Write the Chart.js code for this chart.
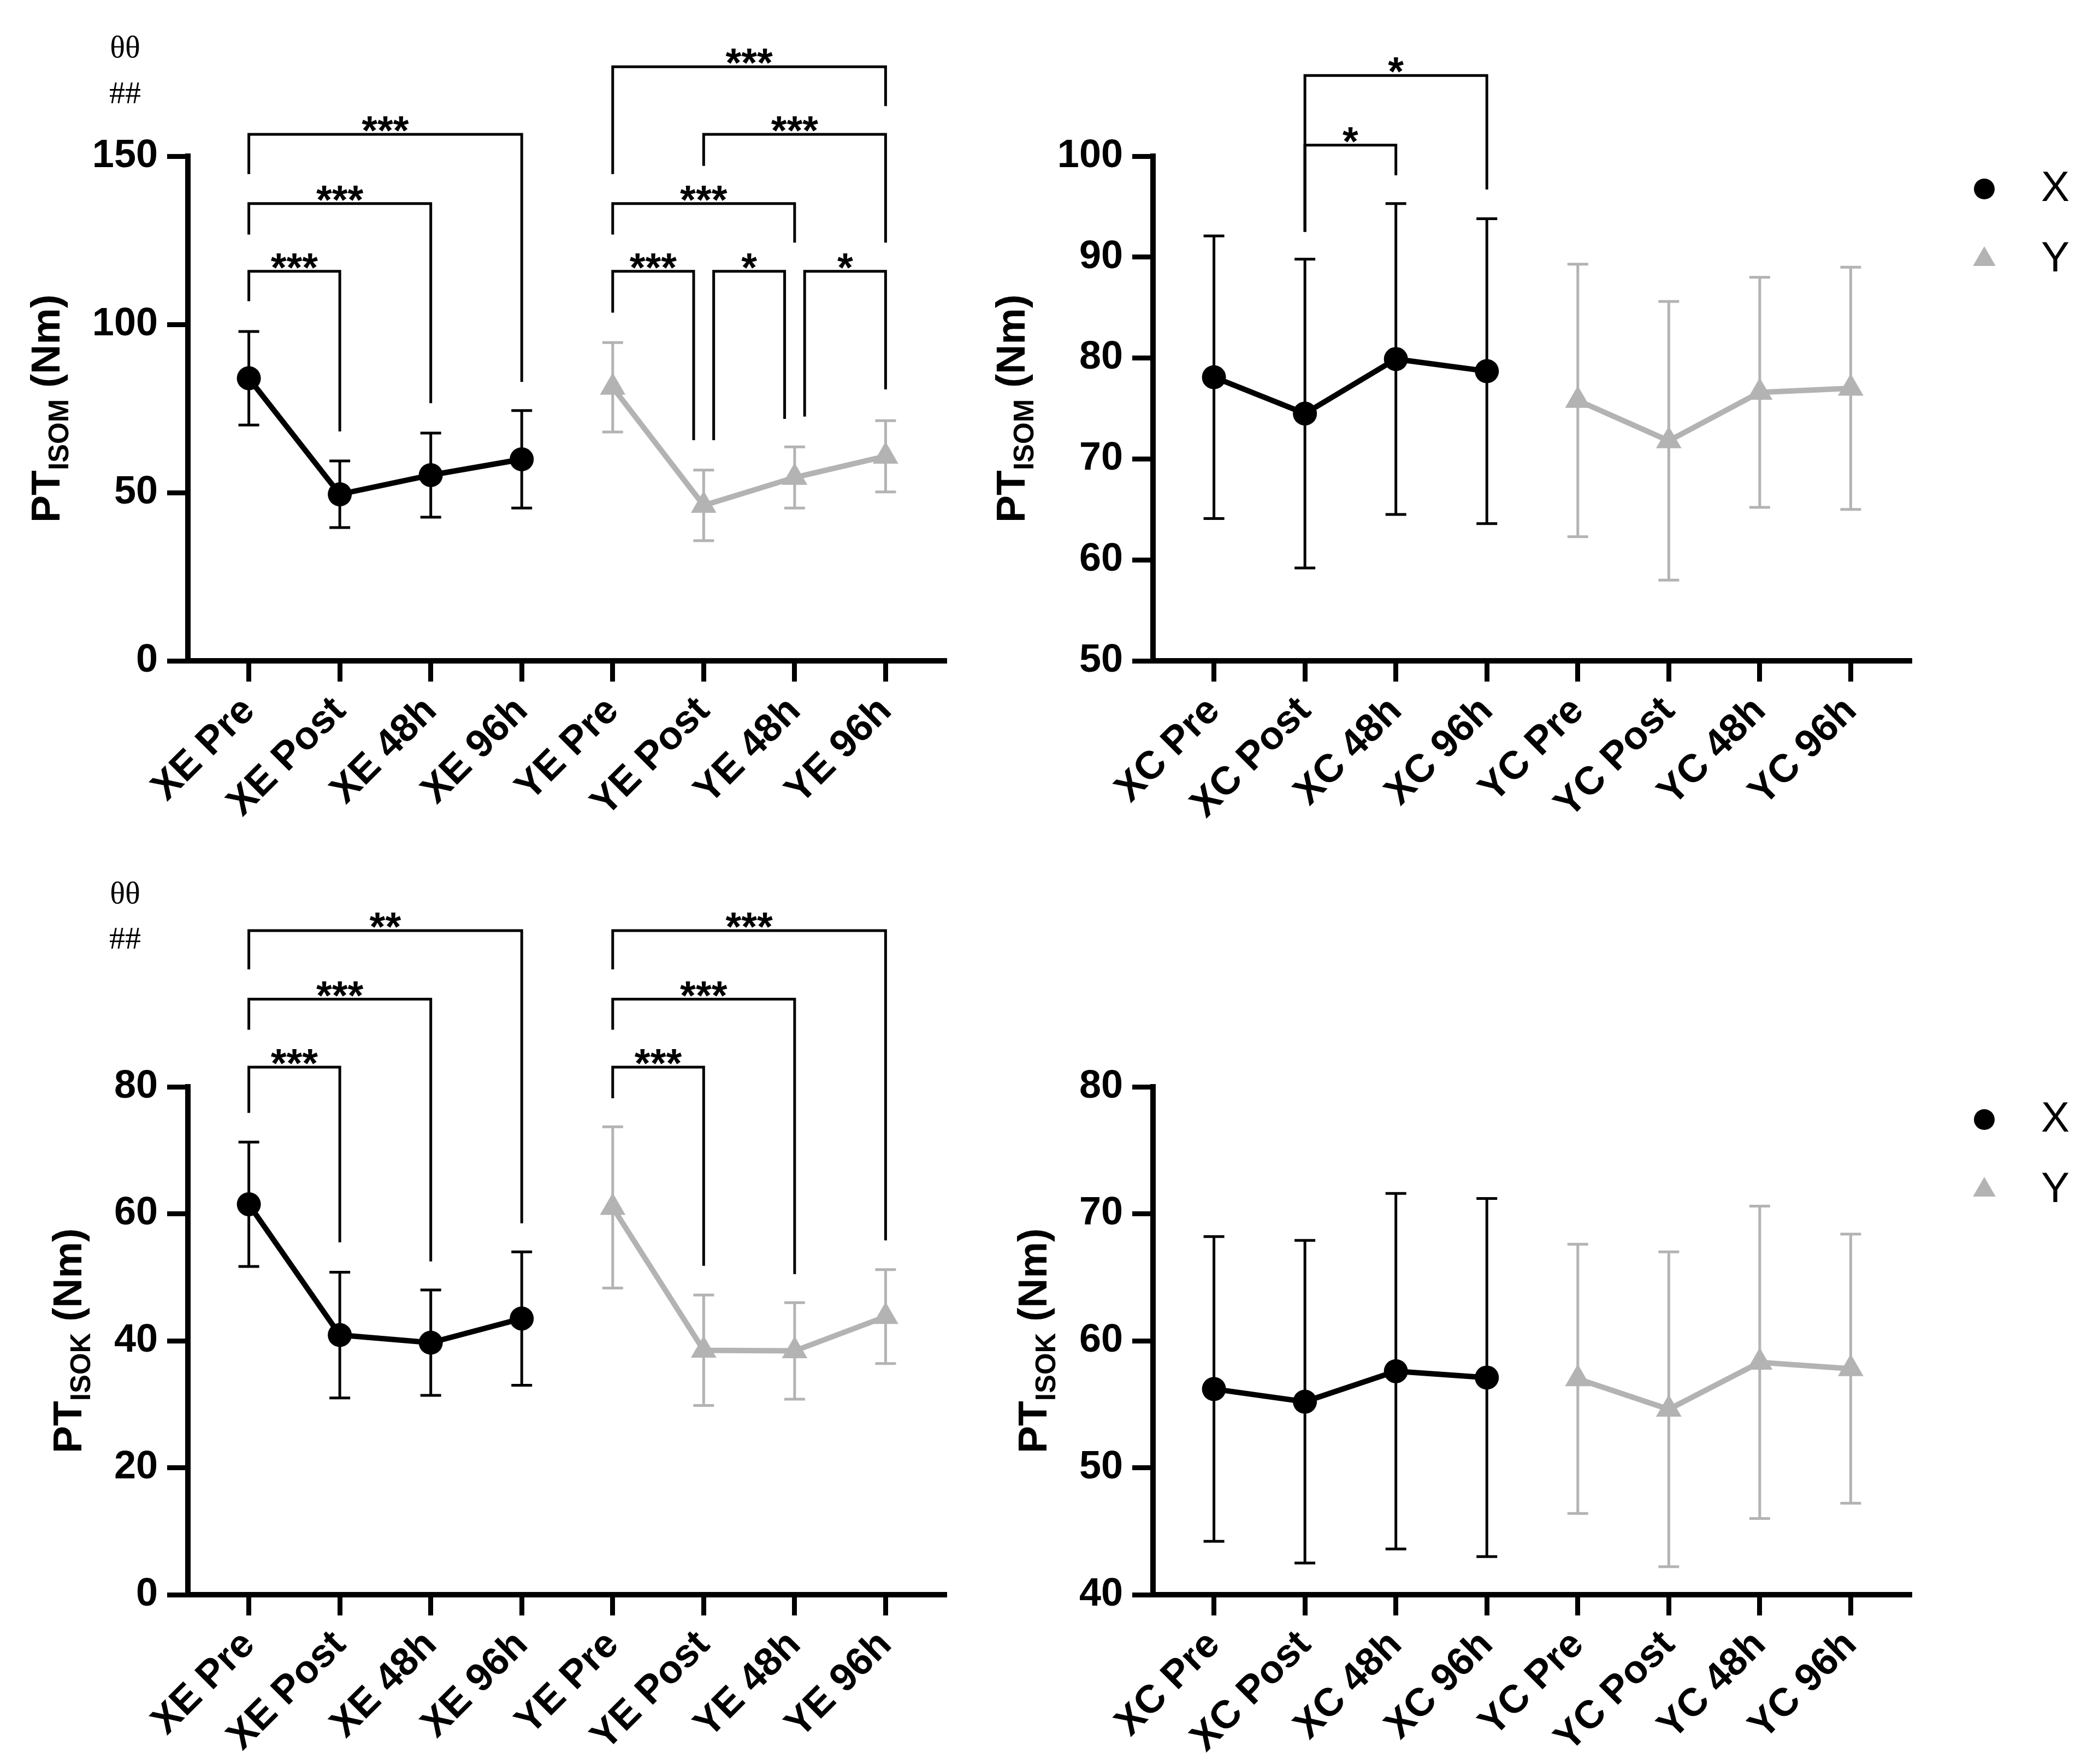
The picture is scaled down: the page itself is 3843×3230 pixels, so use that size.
<!DOCTYPE html>
<html>
<head>
<meta charset="utf-8">
<script src="https://cdn.jsdelivr.net/npm/chart.js@4.4.1/dist/chart.umd.min.js"></script>
<style>
  html, body { margin: 0; background: #fff; }
  #page { position: relative; width: 3843px; height: 3230px; background: #fff; }
  canvas { position: absolute; }
</style>
</head>
<body>
<div id="page">
  <canvas id="isomEx" width="1850" height="1580" style="left:0px;top:0px"></canvas>
  <canvas id="isomCtl" width="2093" height="1580" style="left:1750px;top:0px"></canvas>
  <canvas id="isokEx" width="1850" height="1650" style="left:0px;top:1580px"></canvas>
  <canvas id="isokCtl" width="2093" height="1650" style="left:1750px;top:1580px"></canvas>
</div>
<script>
const exLabels = ['XE Pre', 'XE Post', 'XE 48h', 'XE 96h', 'YE Pre', 'YE Post', 'YE 48h', 'YE 96h']
const ctlLabels = ['XC Pre', 'XC Post', 'XC 48h', 'XC 96h', 'YC Pre', 'YC Post', 'YC 48h', 'YC 96h']

// isometric peak torque (mean, sd)
const isomExX = [84.0, 49.5, 55.2, 59.9]
const isomExXsd = [13.9, 9.9, 12.5, 14.5]
const isomExY = [81.3, 46.2, 54.5, 60.8]
const isomExYsd = [13.3, 10.5, 9.1, 10.6]
const isomCtlX = [78.1, 74.5, 79.9, 78.7]
const isomCtlXsd = [14.0, 15.3, 15.4, 15.1]
const isomCtlY = [75.8, 71.8, 76.6, 77.0]
const isomCtlYsd = [13.5, 13.8, 11.4, 12.0]

// isokinetic peak torque (mean, sd)
const isokExX = [61.5, 40.9, 39.7, 43.5]
const isokExXsd = [9.8, 9.9, 8.3, 10.5]
const isokExY = [61.0, 38.5, 38.4, 43.8]
const isokExYsd = [12.7, 8.7, 7.6, 7.4]
const isokCtlX = [56.2, 55.2, 57.6, 57.1]
const isokCtlXsd = [12.0, 12.7, 14.0, 14.1]
const isokCtlY = [57.0, 54.6, 58.3, 57.8]
const isokCtlYsd = [10.6, 12.4, 12.3, 10.6]

// significance brackets: [from, to, bar value, left leg end, right leg end, stars]
const isomExBrackets = [
  [0, 1, 115.8, 106.9, 68.2, '***'],
  [0, 2, 135.9, 126.7, 76.6, '***'],
  [0, 3, 156.5, 144.7, 82.9, '***'],
  [4, 7, 176.6, 144.7, 164.9, '***'],
  [5, 7, 156.5, 147.1, 124.3, '***'],
  [4, 6, 135.9, 126.7, 124.3, '***'],
  [4, 4.89, 115.8, 103.5, 65.6, '***'],
  [5.11, 5.89, 115.8, 65.6, 71.9, '*'],
  [6.11, 7, 115.8, 72.6, 80.7, '*']
]
const isomCtlBrackets = [
  [1, 3, 108.0, 92.5, 96.7, '*'],
  [1, 2, 101.1, 92.5, 98.1, '*']
]
const isokExBrackets = [
  [0, 1, 83.1, 75.9, 55.5, '***'],
  [0, 2, 93.8, 89.0, 52.5, '***'],
  [0, 3, 104.6, 98.5, 58.5, '**'],
  [4, 5, 83.1, 78.2, 51.8, '***'],
  [4, 6, 93.8, 89.0, 50.5, '***'],
  [4, 7, 104.6, 98.5, 55.8, '***']
]

// group effect marks left of the plot: [text, x value, y value]
const isomExMarks = [['θθ', -1.36, 181.8], ['##', -1.36, 168.2]]
const isokExMarks = [['θθ', -1.36, 110.2], ['##', -1.36, 103.1]]

const BLACK = '#000000'
const GRAY = '#b3b3b3'
const SANS = "'Liberation Sans', Arial, Helvetica, sans-serif"
const SERIF = "'Liberation Serif', 'Times New Roman', serif"

const toPoints = (vals, start) => vals.map((v, i) => ({ x: start + i, y: v }))

const errorBars = {
  id: 'errorBars',
  beforeDatasetsDraw(chart) {
    const { ctx, scales: { x, y } } = chart
    ctx.save()
    chart.data.datasets.forEach(ds => {
      ctx.strokeStyle = ds.borderColor
      ctx.lineWidth = 5
      ds.data.forEach((p, i) => {
        const px = x.getPixelForValue(p.x)
        const top = y.getPixelForValue(p.y + ds.sd[i])
        const bot = y.getPixelForValue(p.y - ds.sd[i])
        ctx.beginPath()
        ctx.moveTo(px, top); ctx.lineTo(px, bot)
        ctx.moveTo(px - 19, top); ctx.lineTo(px + 19, top)
        ctx.moveTo(px - 19, bot); ctx.lineTo(px + 19, bot)
        ctx.stroke()
      })
    })
    ctx.restore()
  }
}

const brackets = {
  id: 'brackets',
  afterDraw(chart, args, opts) {
    const { ctx, scales: { x, y } } = chart
    ctx.save()
    ctx.strokeStyle = BLACK
    ctx.fillStyle = BLACK
    ctx.lineWidth = 5
    ctx.font = `bold 74px ${SANS}`
    ctx.textAlign = 'center'
    ctx.textBaseline = 'alphabetic'
    ;(opts.items || []).forEach(([a, b, h, l, r, stars]) => {
      const x1 = x.getPixelForValue(a)
      const x2 = x.getPixelForValue(b)
      const yh = y.getPixelForValue(h)
      ctx.beginPath()
      ctx.moveTo(x1, y.getPixelForValue(l))
      ctx.lineTo(x1, yh)
      ctx.lineTo(x2, yh)
      ctx.lineTo(x2, y.getPixelForValue(r))
      ctx.stroke()
      ctx.fillText(stars, (x1 + x2) / 2, yh + 18)
    })
    ctx.font = `58px ${SERIF}`
    ctx.textBaseline = 'middle'
    ;(opts.marks || []).forEach(([t, mx, my]) => {
      ctx.fillText(t, x.getPixelForValue(mx), y.getPixelForValue(my))
    })
    ctx.restore()
  }
}

const axisTitle = {
  id: 'axisTitle',
  afterDraw(chart, args, opts) {
    const { ctx, chartArea } = chart
    const ys = chart.scales.y
    ctx.save()
    ctx.font = `bold 72px ${SANS}`
    const labelW = Math.max(...ys.ticks.map(t => ctx.measureText(String(t.label)).width))
    const xb = ys.right - 38 - 17 - labelW - 60
    const yc = (chartArea.top + chartArea.bottom) / 2
    const main = `bold 75px ${SANS}`
    const sub = `bold 51px ${SANS}`
    ctx.font = main
    const w1 = ctx.measureText('PT').width
    const w3 = ctx.measureText(' (Nm)').width
    ctx.font = sub
    const w2 = ctx.measureText(opts.sub).width
    const start = -(w1 + w2 + w3) / 2
    ctx.translate(xb, yc)
    ctx.rotate(-Math.PI / 2)
    ctx.fillStyle = BLACK
    ctx.textAlign = 'left'
    ctx.textBaseline = 'alphabetic'
    ctx.font = main
    ctx.fillText('PT', start, 0)
    ctx.font = sub
    ctx.fillText(opts.sub, start + w1, 16)
    ctx.font = main
    ctx.fillText(' (Nm)', start + w1 + w2, 0)
    ctx.restore()
  }
}

const sideLegend = {
  id: 'sideLegend',
  afterDraw(chart, args, opts) {
    if (!opts.show) return
    const { ctx, chartArea } = chart
    ctx.save()
    chart.data.datasets.forEach((ds, i) => {
      const cy = chartArea.top + 60 + i * 129
      ctx.fillStyle = ds.backgroundColor
      const r = ds.pointStyle === 'triangle' ? 24 : 19
      Chart.helpers.drawPoint(ctx, { pointStyle: ds.pointStyle, radius: r, borderWidth: 0, rotation: 0 }, chartArea.right + 133, cy)
      ctx.fillStyle = BLACK
      ctx.font = `78px ${SANS}`
      ctx.textAlign = 'left'
      ctx.textBaseline = 'middle'
      ctx.fillText(ds.label, chartArea.right + 237, cy)
    })
    ctx.restore()
  }
}

const makeChart = (id, cfg) => {
  const axisFont = { family: SANS, weight: 'bold', size: 72 }
  return new Chart(document.getElementById(id), {
    type: 'line',
    data: {
      datasets: [
        { label: 'X', data: toPoints(cfg.x, 0), sd: cfg.xsd, borderColor: BLACK, backgroundColor: BLACK,
          borderWidth: 10, pointStyle: 'circle', pointRadius: 22, pointBorderWidth: 0, tension: 0 },
        { label: 'Y', data: toPoints(cfg.y, 4), sd: cfg.ysd, borderColor: GRAY, backgroundColor: GRAY,
          borderWidth: 10, pointStyle: 'triangle', pointRadius: 27, pointBorderWidth: 0, tension: 0 }
      ]
    },
    options: {
      responsive: false,
      animation: false,
      devicePixelRatio: 1,
      events: [],
      layout: { padding: cfg.padding },
      scales: {
        x: {
          type: 'linear', min: -0.67, max: 7.67,
          afterFit: s => { s.height = cfg.xHeight },
          border: { color: BLACK, width: 10 },
          grid: { drawOnChartArea: false, tickLength: 38, tickWidth: 9, tickColor: BLACK },
          ticks: {
            stepSize: 1, includeBounds: false, autoSkip: false, minRotation: 45, maxRotation: 45,
            padding: 12, color: BLACK, font: axisFont,
            callback: v => cfg.labels[v] ?? ''
          }
        },
        y: {
          min: cfg.min, max: cfg.max,
          afterFit: s => { s.width = cfg.yWidth },
          border: { color: BLACK, width: 10 },
          grid: { drawOnChartArea: false, tickLength: 38, tickWidth: 9, tickColor: BLACK },
          ticks: { stepSize: cfg.step, padding: 17, color: BLACK, font: axisFont }
        }
      },
      plugins: {
        legend: { display: false },
        tooltip: { enabled: false },
        brackets: { items: cfg.brackets, marks: cfg.marks },
        axisTitle: { sub: cfg.sub },
        sideLegend: { show: cfg.legend }
      }
    },
    plugins: [errorBars, brackets, axisTitle, sideLegend]
  })
}

makeChart('isomEx', {
  labels: exLabels, x: isomExX, xsd: isomExXsd, y: isomExY, ysd: isomExYsd,
  min: 0, max: 150, step: 50, sub: 'ISOM', brackets: isomExBrackets, marks: isomExMarks, legend: false,
  padding: { top: 286, right: 117, left: 0, bottom: 0 }, yWidth: 344, xHeight: 370
})
makeChart('isomCtl', {
  labels: ctlLabels, x: isomCtlX, xsd: isomCtlXsd, y: isomCtlY, ysd: isomCtlYsd,
  min: 50, max: 100, step: 10, sub: 'ISOM', brackets: isomCtlBrackets, marks: [], legend: true,
  padding: { top: 286, right: 343, left: 0, bottom: 0 }, yWidth: 361, xHeight: 370
})
makeChart('isokEx', {
  labels: exLabels, x: isokExX, xsd: isokExXsd, y: isokExY, ysd: isokExYsd,
  min: 0, max: 80, step: 20, sub: 'ISOK', brackets: isokExBrackets, marks: isokExMarks, legend: false,
  padding: { top: 410, right: 117, left: 0, bottom: 0 }, yWidth: 344, xHeight: 310
})
makeChart('isokCtl', {
  labels: ctlLabels, x: isokCtlX, xsd: isokCtlXsd, y: isokCtlY, ysd: isokCtlYsd,
  min: 40, max: 80, step: 10, sub: 'ISOK', brackets: [], marks: [], legend: true,
  padding: { top: 410, right: 343, left: 0, bottom: 0 }, yWidth: 361, xHeight: 310
})
</script>
</body>
</html>
